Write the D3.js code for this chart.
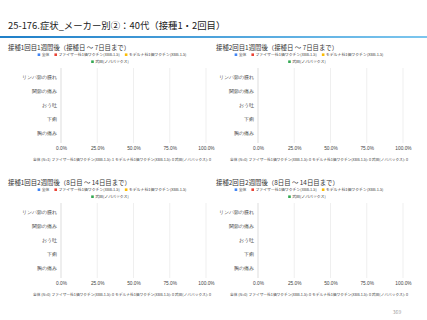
<!DOCTYPE html>
<html>
<head>
<meta charset="utf-8">
<script src="https://cdn.jsdelivr.net/npm/d3@7"></script>
<style>
  body { margin: 0; background: #fff; }
  svg { display: block; font-family: "Noto Sans CJK JP", "Noto Sans", sans-serif; }
</style>
</head>
<body>
<div id="chart"></div>
<script>
// DATA
const PAGE_TITLE = "25-176.症状_メーカー別②：40代（接種1・2回目）";
const PAGE_NUMBER = "369";
const SYMPTOMS = ["リンパ節の腫れ", "関節の痛み", "おう吐", "下痢", "胸の痛み"];
const SERIES = ["全体", "ファイザー社1価ワクチン(XBB.1.5)", "モデルナ社1価ワクチン(XBB.1.5)", "武田(ノババックス)"];
const SERIES_COLORS = ["#4285f4", "#ea4335", "#fbbc04", "#34a853"];
const X_TICKS = [0, 0.25, 0.5, 0.75, 1];
const PANEL_TITLES = [
  "接種1回目1週間後（接種日 ～ 7日目まで）",
  "接種2回目1週間後（接種日 ～ 7日目まで）",
  "接種1回目2週間後（8日目 ～ 14日目まで）",
  "接種2回目2週間後（8日目 ～ 14日目まで）"
];
// N per panel: [全体, ファイザー, モデルナ, 武田]
const PANEL_COUNTS = [
  [1, 1, 0, 0],
  [0, 0, 0, 0],
  [0, 0, 0, 0],
  [0, 0, 0, 0]
];
// rate per symptom per series, per panel (all zero in the source)
const PANEL_VALUES = [
  [[0, 0, 0, 0], [0, 0, 0, 0], [0, 0, 0, 0], [0, 0, 0, 0], [0, 0, 0, 0]],
  [[0, 0, 0, 0], [0, 0, 0, 0], [0, 0, 0, 0], [0, 0, 0, 0], [0, 0, 0, 0]],
  [[0, 0, 0, 0], [0, 0, 0, 0], [0, 0, 0, 0], [0, 0, 0, 0], [0, 0, 0, 0]],
  [[0, 0, 0, 0], [0, 0, 0, 0], [0, 0, 0, 0], [0, 0, 0, 0], [0, 0, 0, 0]]
];

const WIDTH = 427, HEIGHT = 320;

const SVG = d3.select("#chart").append("svg")
  .attr("width", WIDTH)
  .attr("height", HEIGHT);

// header
const grad = SVG.append("defs").append("linearGradient")
  .attr("id", "hdr").attr("x1", "0%").attr("x2", "100%");
grad.append("stop").attr("offset", "0%").attr("stop-color", "#1f7fc8");
grad.append("stop").attr("offset", "100%").attr("stop-color", "#7cc6ee");

SVG.append("text")
  .attr("x", 8).attr("y", 29)
  .attr("font-size", 9.4)
  .attr("fill", "#222")
  .text(PAGE_TITLE);

SVG.append("rect")
  .attr("x", 0).attr("y", 36)
  .attr("width", WIDTH).attr("height", 2)
  .attr("fill", "url(#hdr)");

SVG.append("text")
  .attr("x", 397).attr("y", 314)
  .attr("text-anchor", "middle")
  .attr("font-size", 5)
  .attr("fill", "#9e9e9e")
  .text(PAGE_NUMBER);

// PANELS
const PANEL_ORIGINS = [[0, 0], [197, 0], [0, 135], [197, 135]];
const TITLE_X = [8, 19, 8, 19];

PANEL_TITLES.forEach((title, i) => drawPanel(i));

function drawPanel(i) {
  const [ox, oy] = PANEL_ORIGINS[i];
  const g = SVG.append("g").attr("transform", `translate(${ox},${oy})`);

  g.append("text")
    .attr("x", TITLE_X[i]).attr("y", 50)
    .attr("font-size", 6.4)
    .attr("fill", "#333")
    .text(PANEL_TITLES[i]);

  // legend
  const legend = g.append("g").attr("font-size", 3.9).attr("fill", "#444");
  const row1 = legend.append("g");
  let cx = 0;
  SERIES.slice(0, 3).forEach((s, k) => {
    row1.append("rect").attr("x", cx).attr("y", -2.6).attr("width", 2.6).attr("height", 2.6)
      .attr("fill", SERIES_COLORS[k]);
    const t = row1.append("text").attr("x", cx + 4).attr("y", 0).text(s);
    cx += 4 + t.node().getComputedTextLength() + 5;
  });
  const w1 = cx - 5;
  row1.attr("transform", `translate(${112 - w1 / 2},56)`);
  const row2 = legend.append("g");
  row2.append("rect").attr("x", 0).attr("y", -2.6).attr("width", 2.6).attr("height", 2.6)
    .attr("fill", SERIES_COLORS[3]);
  const t2 = row2.append("text").attr("x", 4).attr("y", 0).text(SERIES[3]);
  const w2 = 4 + t2.node().getComputedTextLength();
  row2.attr("transform", `translate(${110 - w2 / 2},63)`);

  // scales
  const x = d3.scaleLinear().domain([0, 1]).range([61, 206]);
  const y = d3.scaleBand().domain(SYMPTOMS).range([70, 141]);
  const ySub = d3.scaleBand().domain(SERIES).range([0, y.bandwidth()]).padding(0.1);

  // grid
  g.append("g").selectAll("line")
    .data(X_TICKS)
    .join("line")
    .attr("x1", d => x(d)).attr("x2", d => x(d))
    .attr("y1", 68).attr("y2", 143)
    .attr("stroke", d => d === 0 ? "#c8c8c8" : "#e4e4e4")
    .attr("stroke-width", 0.6);

  // x axis labels
  const xAxis = d3.axisBottom(x)
    .tickValues(X_TICKS)
    .tickFormat(d3.format(".1%"))
    .tickSize(0)
    .tickPadding(4);
  const xg = g.append("g").attr("transform", "translate(0,143)").call(xAxis);
  xg.select(".domain").remove();
  xg.selectAll("text").attr("font-size", 4.8).attr("fill", "#444").attr("font-family", null);

  // y axis labels
  const yAxis = d3.axisLeft(y).tickSize(0).tickPadding(4);
  const yg = g.append("g").attr("transform", `translate(${x(0)},0)`).call(yAxis);
  yg.select(".domain").remove();
  yg.selectAll("text").attr("font-size", 4.5).attr("fill", "#444").attr("font-family", null);

  // bars
  const bars = [];
  PANEL_VALUES[i].forEach((row, si) => row.forEach((v, k) =>
    bars.push({symptom: SYMPTOMS[si], series: SERIES[k], k: k, v: v})));
  g.append("g").selectAll("rect")
    .data(bars)
    .join("rect")
    .attr("x", x(0))
    .attr("y", d => y(d.symptom) + ySub(d.series))
    .attr("width", d => x(d.v) - x(0))
    .attr("height", ySub.bandwidth())
    .attr("fill", d => SERIES_COLORS[d.k]);

  // footnote
  const c = PANEL_COUNTS[i];
  const note = `全体 (N=${c[0]})  ${SERIES[1]}: ${c[1]}  ${SERIES[2]}: ${c[2]}  ${SERIES[3]}: ${c[3]}`;
  g.append("text")
    .attr("x", 33).attr("y", 161)
    .attr("font-size", 3.6)
    .attr("fill", "#444")
    .attr("textLength", 178)
    .attr("lengthAdjust", "spacingAndGlyphs")
    .text(note);
}
</script>
</body>
</html>
